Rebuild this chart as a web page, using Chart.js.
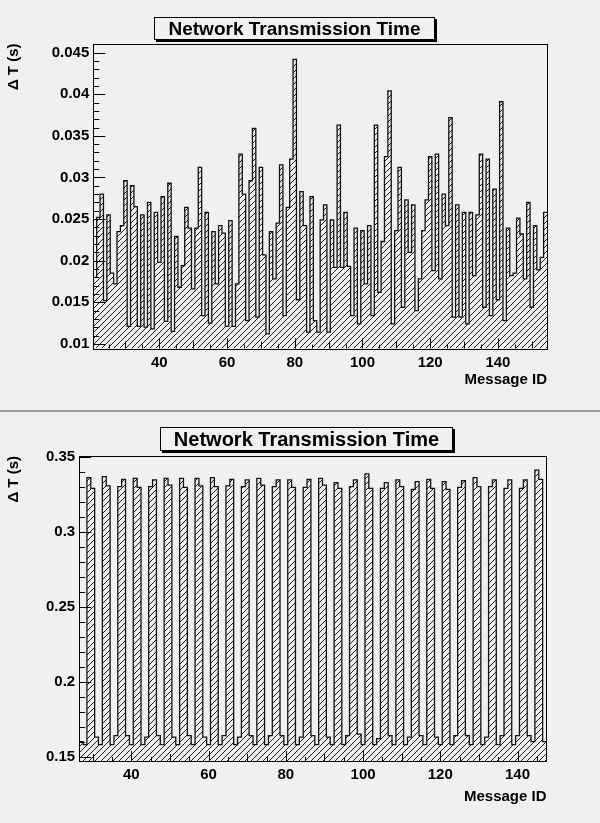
<!DOCTYPE html>
<html lang="en">
<head>
  <meta charset="UTF-8" />
  <title>Network Transmission Time</title>
  <script src="https://cdn.jsdelivr.net/npm/chart.js"></script>
  <style>
    body {
      margin: 0;
      background: #f0f0f0;
      font-family: "Liberation Sans", Arial, sans-serif;
    }

    .pad {
      position: absolute;
      left: 0;
      width: 600px;
      height: 411px;
    }

    #padTop { top: 0; }
    #padBottom { top: 412px; }

    .sep {
      position: absolute;
      left: 0;
      width: 600px;
      top: 410px;
      height: 2px;
      background: #9c9c9c;
    }

    .pad canvas {
      position: absolute;
      left: 0;
      top: 0;
    }

    .title {
      position: absolute;
      box-sizing: border-box;
      border: 1px solid #000;
      box-shadow: 2px 2px 0 #000;
      background: #f0f0f0;
      font-weight: bold;
      text-align: center;
      color: #000;
    }
  </style>
</head>
<body>
  <div class="pad" id="padTop">
    <canvas id="topChart" width="600" height="411"></canvas>
    <div class="title" style="left:154px; top:17px; width:281px; height:23px; font-size:19px; line-height:21px;">Network Transmission Time</div>
  </div>
  <div class="sep"></div>
  <div class="pad" id="padBottom">
    <canvas id="bottomChart" width="600" height="411"></canvas>
    <div class="title" style="left:160px; top:15px; width:293px; height:24px; font-size:20px; line-height:22px;">Network Transmission Time</div>
  </div>

  <script>
    // upper histogram: message 21 .. 154
    const topFirstId = 21;
    const topValues = [
      0.0180, 0.0252, 0.0280, 0.0152, 0.0255, 0.0185, 0.0172, 0.0235, 0.0242, 0.0296,
      0.0121, 0.0290, 0.0265, 0.0121, 0.0255, 0.0120, 0.0270, 0.0118, 0.0258, 0.0198,
      0.0277, 0.0127, 0.0293, 0.0115, 0.0229, 0.0168, 0.0194, 0.0264, 0.0239, 0.0166,
      0.0239, 0.0312, 0.0134, 0.0258, 0.0125, 0.0235, 0.0172, 0.0242, 0.0233, 0.0121,
      0.0248, 0.0121, 0.0172, 0.0328, 0.0280, 0.0128, 0.0296, 0.0359, 0.0132, 0.0312,
      0.0207, 0.0112, 0.0235, 0.0178, 0.0245, 0.0315, 0.0134, 0.0264, 0.0322, 0.0442,
      0.0153, 0.0283, 0.0242, 0.0114, 0.0277, 0.0128, 0.0114, 0.0249, 0.0267, 0.0114,
      0.0249, 0.0192, 0.0363, 0.0192, 0.0258, 0.0193, 0.0134, 0.0239, 0.0124, 0.0236,
      0.0172, 0.0242, 0.0134, 0.0363, 0.0162, 0.0223, 0.0325, 0.0404, 0.0124, 0.0236,
      0.0312, 0.0144, 0.0273, 0.0210, 0.0267, 0.0140, 0.0178, 0.0236, 0.0273, 0.0325,
      0.0188, 0.0328, 0.0178, 0.0280, 0.0242, 0.0372, 0.0132, 0.0267, 0.0132, 0.0258,
      0.0124, 0.0258, 0.0182, 0.0255, 0.0328, 0.0144, 0.0322, 0.0134, 0.0286, 0.0153,
      0.0391, 0.0128, 0.0239, 0.0182, 0.0185, 0.0251, 0.0232, 0.0178, 0.0270, 0.0144,
      0.0242, 0.0189, 0.0204, 0.0258
    ];
    const topYTicks = [0.01, 0.015, 0.02, 0.025, 0.03, 0.035, 0.04, 0.045];
    const topXTicks = [40, 60, 80, 100, 120, 140];

    // lower histogram: message 27 .. 147
    const bottomFirstId = 27;
    const bottomValues = [
      0.160, 0.158, 0.3362, 0.3291,
      0.163, 0.158, 0.3369, 0.3307,
      0.158, 0.164, 0.3302, 0.3351,
      0.164, 0.158, 0.3358, 0.3298,
      0.158, 0.163, 0.3302, 0.3347,
      0.164, 0.158, 0.3358, 0.3313,
      0.163, 0.158, 0.3358, 0.3298,
      0.164, 0.158, 0.3358, 0.3307,
      0.163, 0.158, 0.3362, 0.3302,
      0.158, 0.164, 0.3307, 0.3351,
      0.158, 0.163, 0.3302, 0.3347,
      0.164, 0.158, 0.3358, 0.3313,
      0.158, 0.164, 0.3302, 0.3347,
      0.164, 0.158, 0.3347, 0.3298,
      0.158, 0.163, 0.3298, 0.3351,
      0.164, 0.158, 0.3358, 0.3313,
      0.163, 0.158, 0.3329, 0.3291,
      0.158, 0.164, 0.3302, 0.3347,
      0.165, 0.158, 0.3387, 0.3291,
      0.158, 0.162, 0.3291, 0.3329,
      0.164, 0.158, 0.3347, 0.3302,
      0.158, 0.163, 0.3284, 0.3336,
      0.164, 0.158, 0.3351, 0.3291,
      0.163, 0.158, 0.3336, 0.3284,
      0.158, 0.164, 0.3298, 0.3342,
      0.164, 0.158, 0.3362, 0.3302,
      0.158, 0.163, 0.3302, 0.3347,
      0.158, 0.164, 0.3291, 0.3347,
      0.158, 0.164, 0.3291, 0.3347,
      0.164, 0.160, 0.3413, 0.3351,
      0.160
    ];
    const bottomYTicks = [0.15, 0.2, 0.25, 0.3, 0.35];
    const bottomXTicks = [40, 60, 80, 100, 120, 140];

    const axisFont = { family: '"Liberation Sans", Arial, sans-serif', size: 15, weight: 'bold' };

    function hatchPattern() {
      const c = document.createElement('canvas');
      c.width = 6;
      c.height = 6;
      const g = c.getContext('2d');
      g.strokeStyle = '#1a1a1a';
      g.lineWidth = 1;
      g.beginPath();
      g.moveTo(0, 6); g.lineTo(6, 0);
      g.moveTo(-1, 1); g.lineTo(1, -1);
      g.moveTo(5, 7); g.lineTo(7, 5);
      g.stroke();
      return g.createPattern(c, 'repeat');
    }

    // histogram outline: one point per bin low edge, plus the last high edge
    function binPoints(firstId, values) {
      const pts = values.map((v, i) => ({ x: firstId + i - 0.5, y: v }));
      pts.push({ x: firstId + values.length - 0.5, y: values[values.length - 1] });
      return pts;
    }

    // ROOT style frame with ticks pointing inward
    const frameTicks = {
      id: 'frameTicks',
      afterDatasetsDraw(chart, args, o) {
        const { ctx, chartArea: a, scales: { x, y } } = chart;
        ctx.save();
        ctx.strokeStyle = '#000';
        ctx.lineWidth = 1;
        ctx.beginPath();
        const yk0 = Math.ceil(y.min / o.yMinor - 1e-6), yk1 = Math.floor(y.max / o.yMinor + 1e-6);
        const yr = Math.round(o.yMajor / o.yMinor);
        for (let k = yk0; k <= yk1; k++) {
          const py = Math.round(y.getPixelForValue(k * o.yMinor)) + 0.5;
          const len = k % yr === 0 ? 12 : 6;
          ctx.moveTo(a.left, py);
          ctx.lineTo(a.left + len, py);
        }
        const xk0 = Math.ceil(x.min / 5), xk1 = Math.floor(x.max / 5);
        for (let k = xk0; k <= xk1; k++) {
          const px = Math.round(x.getPixelForValue(k * 5)) + 0.5;
          const len = k % 4 === 0 ? 10 : (k % 2 === 0 ? 7 : 4);
          ctx.moveTo(px, a.bottom);
          ctx.lineTo(px, a.bottom - len);
        }
        ctx.stroke();
        ctx.strokeRect(Math.round(a.left) + 0.5, Math.round(a.top) + 0.5,
          Math.round(a.right - a.left), Math.round(a.bottom - a.top));
        ctx.restore();
      }
    };

    function histChart(id, o) {
      return new Chart(document.getElementById(id), {
        type: 'line',
        data: {
          datasets: [{
            data: binPoints(o.firstId, o.values),
            stepped: 'before',
            borderColor: '#111',
            borderWidth: 1.3,
            pointRadius: 0,
            fill: 'start',
            backgroundColor: hatchPattern()
          }]
        },
        options: {
          responsive: false,
          animation: false,
          events: [],
          layout: { padding: { top: o.top, right: o.right, left: 0, bottom: 0 } },
          plugins: {
            legend: { display: false },
            tooltip: { enabled: false },
            frameTicks: { yMinor: o.yMinor, yMajor: o.yMajor }
          },
          scales: {
            x: {
              type: 'linear',
              min: o.firstId - 0.5,
              max: o.firstId + o.values.length - 0.5,
              grid: { display: false, drawTicks: false },
              border: { display: false },
              afterBuildTicks: s => { s.ticks = o.xTicks.map(v => ({ value: v })); },
              afterFit: s => { s.height = o.xHeight; },
              ticks: { font: axisFont, color: '#000', padding: 5, maxRotation: 0, autoSkip: false,
                callback: v => String(v) },
              title: { display: true, text: 'Message ID', align: 'end', font: axisFont, color: '#000',
                padding: { top: 0, bottom: o.xTitlePad } }
            },
            y: {
              min: o.ymin,
              max: o.ymax,
              grid: { display: false, drawTicks: false },
              border: { display: false },
              afterBuildTicks: s => { s.ticks = o.yTicks.map(v => ({ value: v })); },
              afterFit: s => { s.width = o.yWidth; },
              ticks: { font: axisFont, color: '#000', padding: 4, autoSkip: false,
                callback: v => String(+v.toFixed(4)) },
              title: { display: true, text: 'Δ T (s)', align: 'end', font: axisFont, color: '#000',
                padding: { top: 5, bottom: 0 } }
            }
          }
        },
        plugins: [frameTicks]
      });
    }

    histChart('topChart', {
      firstId: topFirstId, values: topValues, xTicks: topXTicks, yTicks: topYTicks,
      ymin: 0.00944, ymax: 0.0461, yMinor: 0.001, yMajor: 0.005,
      top: 43.5, right: 53, yWidth: 93.3, xHeight: 62.5, xTitlePad: 22
    });

    histChart('bottomChart', {
      firstId: bottomFirstId, values: bottomValues, xTicks: bottomXTicks, yTicks: bottomYTicks,
      ymin: 0.147, ymax: 0.3507, yMinor: 0.01, yMajor: 0.05,
      top: 44, right: 53.5, yWidth: 79.2, xHeight: 62, xTitlePad: 17
    });
  </script>
</body>
</html>
